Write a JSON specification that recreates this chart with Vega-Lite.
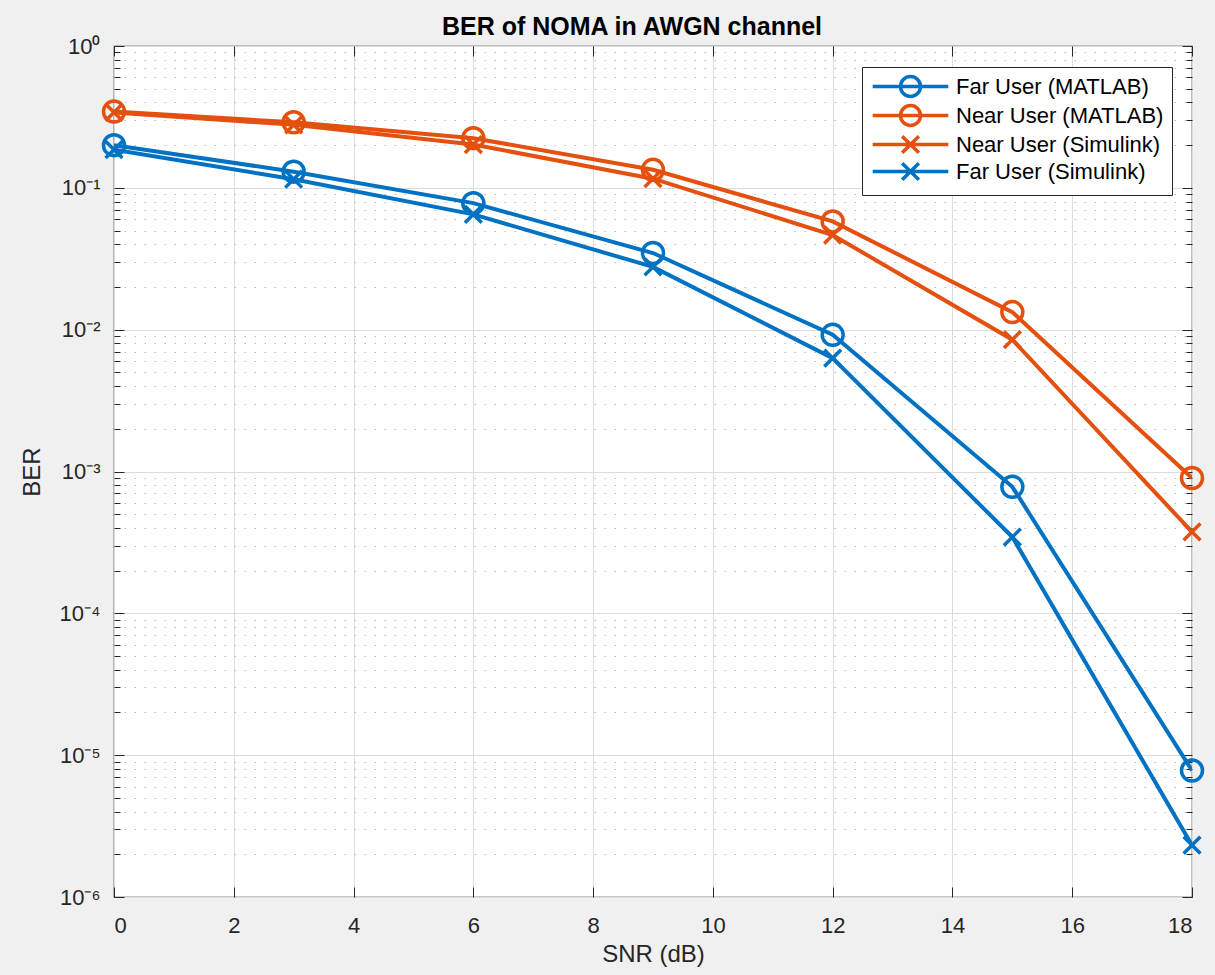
{
  "$schema": "https://vega.github.io/schema/vega-lite/v6.json",
  "width": 1078,
  "height": 851,
  "autosize": {"type": "none"},
  "padding": {"left": 114, "top": 46, "right": 23, "bottom": 78},
  "background": "#f0f0f0",
  "title": {"text": "BER of NOMA in AWGN channel", "font": "Liberation Sans", "fontSize": 25, "fontWeight": "bold", "color": "#000000", "offset": -5, "dx": -21, "anchor": "middle"},
  "config": {
    "view": {"fill": "#ffffff", "stroke": "#262626", "strokeWidth": 1.2},
    "axis": {"domain": false, "tickColor": "#262626", "tickWidth": 1, "labelFont": "Liberation Sans", "labelFontSize": 22, "labelColor": "#262626", "titleFont": "Liberation Sans", "titleFontSize": 24, "titleFontWeight": "normal", "titleColor": "#262626"}
  },
  "data": {"values": [
    {"snr": 0, "ber": 0.200, "series": "Far User (MATLAB)"},
    {"snr": 3, "ber": 0.130, "series": "Far User (MATLAB)"},
    {"snr": 6, "ber": 0.078, "series": "Far User (MATLAB)"},
    {"snr": 9, "ber": 0.0347, "series": "Far User (MATLAB)"},
    {"snr": 12, "ber": 0.0092, "series": "Far User (MATLAB)"},
    {"snr": 15, "ber": 0.00078, "series": "Far User (MATLAB)"},
    {"snr": 18, "ber": 0.0000078, "series": "Far User (MATLAB)"},
    {"snr": 0, "ber": 0.345, "series": "Near User (MATLAB)"},
    {"snr": 3, "ber": 0.290, "series": "Near User (MATLAB)"},
    {"snr": 6, "ber": 0.224, "series": "Near User (MATLAB)"},
    {"snr": 9, "ber": 0.134, "series": "Near User (MATLAB)"},
    {"snr": 12, "ber": 0.0580, "series": "Near User (MATLAB)"},
    {"snr": 15, "ber": 0.0133, "series": "Near User (MATLAB)"},
    {"snr": 18, "ber": 0.00090, "series": "Near User (MATLAB)"},
    {"snr": 0, "ber": 0.340, "series": "Near User (Simulink)"},
    {"snr": 3, "ber": 0.278, "series": "Near User (Simulink)"},
    {"snr": 6, "ber": 0.202, "series": "Near User (Simulink)"},
    {"snr": 9, "ber": 0.116, "series": "Near User (Simulink)"},
    {"snr": 12, "ber": 0.0465, "series": "Near User (Simulink)"},
    {"snr": 15, "ber": 0.0085, "series": "Near User (Simulink)"},
    {"snr": 18, "ber": 0.000375, "series": "Near User (Simulink)"},
    {"snr": 0, "ber": 0.186, "series": "Far User (Simulink)"},
    {"snr": 3, "ber": 0.115, "series": "Far User (Simulink)"},
    {"snr": 6, "ber": 0.065, "series": "Far User (Simulink)"},
    {"snr": 9, "ber": 0.0277, "series": "Far User (Simulink)"},
    {"snr": 12, "ber": 0.0063, "series": "Far User (Simulink)"},
    {"snr": 15, "ber": 0.000345, "series": "Far User (Simulink)"},
    {"snr": 18, "ber": 0.00000232, "series": "Far User (Simulink)"}
  ]},
  "resolve": {"axis": {"x": "independent", "y": "independent"}},
  "layer": [
    {
      "mark": {"type": "line", "strokeWidth": 4, "clip": true},
      "encoding": {
        "x": {"field": "snr", "type": "quantitative", "scale": {"domain": [0, 18], "nice": false, "zero": false},
          "axis": {"orient": "bottom", "offset": -10, "values": [0, 2, 4, 6, 8, 10, 12, 14, 16, 18], "grid": true, "gridColor": "#dcdcdc", "gridWidth": 1, "tickSize": 10, "labelPadding": 18, "title": "SNR (dB)", "titlePadding": 6}},
        "y": {"field": "ber", "type": "quantitative", "scale": {"type": "log", "domain": [0.000001, 1], "nice": false},
          "axis": {"orient": "left", "offset": -10,
            "values": [0.000001, 0.000002, 0.000003, 0.000004, 0.000005, 0.000006, 0.000007, 0.000008, 0.000009,
                       0.00001, 0.00002, 0.00003, 0.00004, 0.00005, 0.00006, 0.00007, 0.00008, 0.00009,
                       0.0001, 0.0002, 0.0003, 0.0004, 0.0005, 0.0006, 0.0007, 0.0008, 0.0009,
                       0.001, 0.002, 0.003, 0.004, 0.005, 0.006, 0.007, 0.008, 0.009,
                       0.01, 0.02, 0.03, 0.04, 0.05, 0.06, 0.07, 0.08, 0.09,
                       0.1, 0.2, 0.3, 0.4, 0.5, 0.6, 0.7, 0.8, 0.9, 1],
            "grid": true,
            "gridColor": {"condition": {"test": "abs(log(datum.value)/LN10 - round(log(datum.value)/LN10)) < 0.001", "value": "#dcdcdc"}, "value": "#bdbdbd"},
            "gridDash": {"condition": {"test": "abs(log(datum.value)/LN10 - round(log(datum.value)/LN10)) < 0.001", "value": []}, "value": [1.5, 8.5]},
            "tickSize": 10,
            "tickDash": {"condition": {"test": "abs(log(datum.value)/LN10 - round(log(datum.value)/LN10)) < 0.001", "value": []}, "value": [0, 4, 6, 10]},
            "labelExpr": "abs(log(datum.value)/LN10 - round(log(datum.value)/LN10)) < 0.001 ? ['10⁻⁶','10⁻⁵','10⁻⁴','10⁻³','10⁻²','10⁻¹','10⁰'][round(log(datum.value)/LN10)+6] : ''",
            "labelPadding": 14,
            "labelFlush": false,
            "labelOverlap": false,
            "title": "BER", "titlePadding": 15}},
        "color": {"field": "series", "type": "nominal",
          "scale": {"domain": ["Far User (MATLAB)", "Near User (MATLAB)", "Near User (Simulink)", "Far User (Simulink)"], "range": ["#0072C3", "#E4500E", "#E4500E", "#0072C3"]}},
        "detail": {"field": "series"}
      }
    },
    {
      "transform": [{"filter": "indexof(datum.series, 'MATLAB') >= 0"}],
      "mark": {"type": "point", "shape": "circle", "filled": false, "strokeWidth": 3.5, "size": 441, "opacity": 1, "clip": false},
      "encoding": {
        "x": {"field": "snr", "type": "quantitative",
          "axis": {"orient": "top", "offset": -10, "values": [0, 2, 4, 6, 8, 10, 12, 14, 16, 18], "grid": false, "labels": false, "tickSize": 10, "title": null}},
        "y": {"field": "ber", "type": "quantitative",
          "axis": {"orient": "right", "offset": -10,
            "values": [0.000001, 0.000002, 0.000003, 0.000004, 0.000005, 0.000006, 0.000007, 0.000008, 0.000009,
                       0.00001, 0.00002, 0.00003, 0.00004, 0.00005, 0.00006, 0.00007, 0.00008, 0.00009,
                       0.0001, 0.0002, 0.0003, 0.0004, 0.0005, 0.0006, 0.0007, 0.0008, 0.0009,
                       0.001, 0.002, 0.003, 0.004, 0.005, 0.006, 0.007, 0.008, 0.009,
                       0.01, 0.02, 0.03, 0.04, 0.05, 0.06, 0.07, 0.08, 0.09,
                       0.1, 0.2, 0.3, 0.4, 0.5, 0.6, 0.7, 0.8, 0.9, 1],
            "grid": false, "labels": false, "title": null,
            "tickSize": 10,
            "tickDash": {"condition": {"test": "abs(log(datum.value)/LN10 - round(log(datum.value)/LN10)) < 0.001", "value": []}, "value": [0, 4, 6, 10]}}},
        "color": {"field": "series", "type": "nominal"}
      }
    },
    {
      "transform": [{"filter": "indexof(datum.series, 'Simulink') >= 0"}],
      "mark": {"type": "point", "shape": "M-0.8,-0.8L0.8,0.8M0.8,-0.8L-0.8,0.8", "filled": false, "strokeWidth": 3.5, "size": 441, "opacity": 1, "clip": false},
      "encoding": {
        "x": {"field": "snr", "type": "quantitative", "axis": null},
        "y": {"field": "ber", "type": "quantitative", "axis": null},
        "color": {"field": "series", "type": "nominal"}
      }
    },
    {
      "transform": [{"filter": "false"}],
      "mark": {"type": "point", "filled": false, "strokeWidth": 3.5, "opacity": 1},
      "encoding": {
        "x": {"field": "snr", "type": "quantitative", "axis": null},
        "y": {"field": "ber", "type": "quantitative", "axis": null},
        "color": {"field": "series", "type": "nominal",
          "legend": {"title": null, "orient": "none", "legendX": 748, "legendY": 21,
            "fillColor": "#ffffff", "strokeColor": "#262626", "padding": 8,
            "labelFont": "Liberation Sans", "labelFontSize": 22, "labelColor": "#000000", "labelLimit": 400,
            "symbolSize": 361, "symbolStrokeWidth": 3.5, "symbolOffset": 29, "labelOffset": 34, "rowPadding": -6}},
        "shape": {"field": "series", "type": "nominal",
          "scale": {"domain": ["Far User (MATLAB)", "Near User (MATLAB)", "Near User (Simulink)", "Far User (Simulink)"],
            "range": ["M-3.98,0H3.98M-1.05,0A1.05,1.05 0 1,0 1.05,0A1.05,1.05 0 1,0 -1.05,0", "M-3.98,0H3.98M-1.05,0A1.05,1.05 0 1,0 1.05,0A1.05,1.05 0 1,0 -1.05,0", "M-3.98,0H3.98M-0.88,-0.88L0.88,0.88M0.88,-0.88L-0.88,0.88", "M-3.98,0H3.98M-0.88,-0.88L0.88,0.88M0.88,-0.88L-0.88,0.88"]}}
      }
    }
  ]
}
